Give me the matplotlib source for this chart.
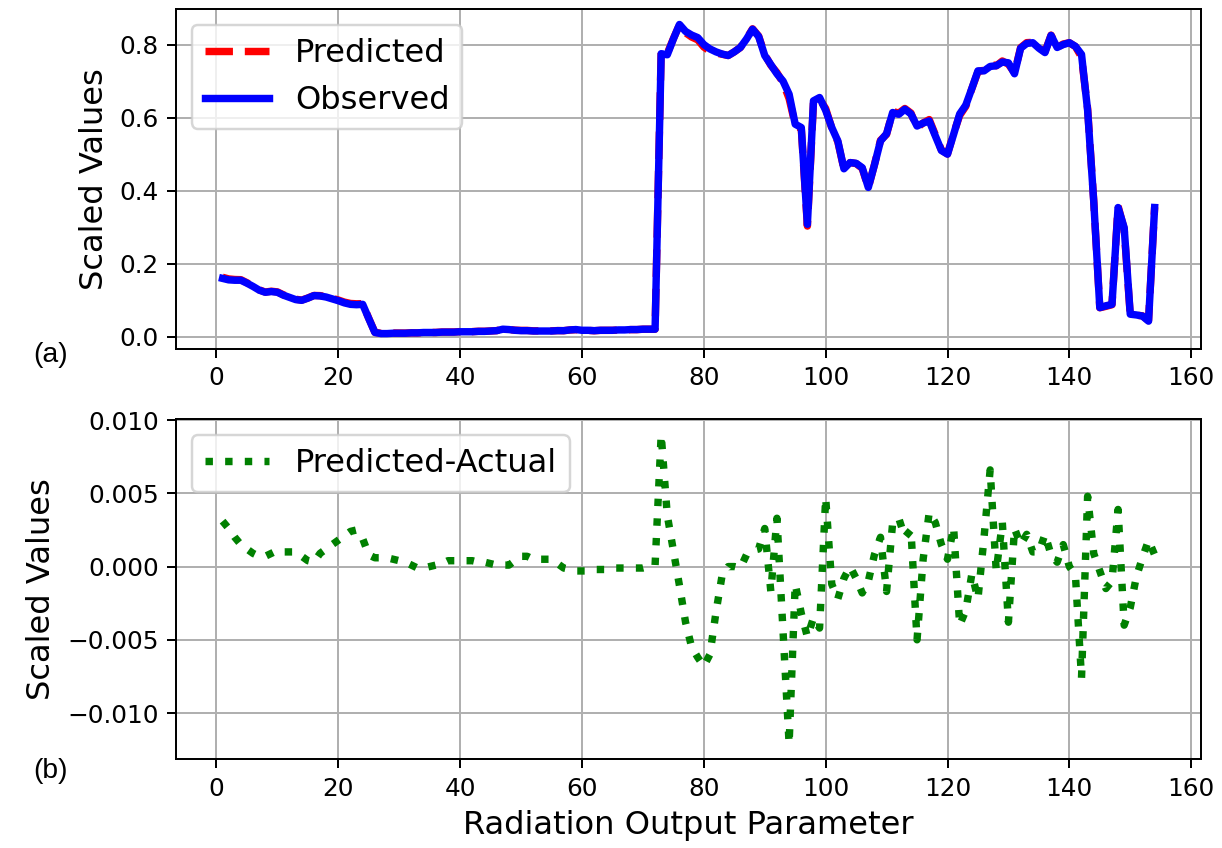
import numpy as np
import matplotlib
matplotlib.use("Agg")
import matplotlib.pyplot as plt

# parametro (1..154)
x = np.arange(1, 155)

observed = [
    0.160, 0.156, 0.155, 0.155, 0.147, 0.138, 0.128, 0.122, 0.124, 0.122,
    0.114, 0.108, 0.102, 0.100, 0.106, 0.113, 0.112, 0.109, 0.104, 0.099,
    0.093, 0.089, 0.088, 0.089, 0.050, 0.012, 0.009, 0.009, 0.010, 0.010,
    0.010, 0.011, 0.011, 0.012, 0.012, 0.012, 0.013, 0.013, 0.013, 0.014,
    0.014, 0.014, 0.015, 0.015, 0.016, 0.017, 0.021, 0.020, 0.018, 0.017,
    0.017, 0.016, 0.016, 0.016, 0.016, 0.017, 0.017, 0.019, 0.020, 0.018,
    0.018, 0.017, 0.018, 0.018, 0.018, 0.019, 0.019, 0.020, 0.020, 0.021,
    0.021, 0.021, 0.775, 0.772, 0.815, 0.855, 0.836, 0.826, 0.819, 0.800,
    0.788, 0.780, 0.774, 0.770, 0.780, 0.792, 0.815, 0.842, 0.822, 0.770,
    0.745, 0.720, 0.700, 0.664, 0.582, 0.573, 0.308, 0.646, 0.655, 0.620,
    0.573, 0.536, 0.460, 0.477, 0.475, 0.463, 0.409, 0.470, 0.536, 0.556,
    0.614, 0.609, 0.623, 0.610, 0.577, 0.585, 0.591, 0.550, 0.510, 0.500,
    0.554, 0.610, 0.634, 0.680, 0.728, 0.728, 0.740, 0.742, 0.752, 0.750,
    0.720, 0.790, 0.803, 0.805, 0.790, 0.778, 0.825, 0.792, 0.800, 0.805,
    0.795, 0.773, 0.620, 0.372, 0.080, 0.085, 0.089, 0.354, 0.299, 0.062,
    0.060, 0.057, 0.043, 0.354,
]

# predicho - real
diff = [
    0.0031, 0.0026, 0.0020, 0.0015, 0.0012, 0.0009, 0.0007, 0.0007, 0.0009, 0.0011,
    0.0010, 0.0010, 0.0010, 0.0007, 0.0004, 0.0003, 0.0009, 0.0012, 0.0015, 0.0018,
    0.0021, 0.0024, 0.0025, 0.0019, 0.0008, 0.0006, 0.0006, 0.0006, 0.0005, 0.0004,
    0.0003, 0.0001, -0.0001, -0.0001, 0.0000, 0.0001, 0.0002, 0.0004, 0.0004, 0.0004,
    0.0004, 0.0004, 0.0003, 0.0003, 0.0002, 0.0001, 0.0001, 0.0001, 0.0004, 0.0007,
    0.0007, 0.0005, 0.0005, 0.0005, 0.0005, 0.0002, -0.0001, -0.0002, -0.0003, -0.0003,
    -0.0003, -0.0002, -0.0002, -0.0002, -0.0001, -0.0001, -0.0001, -0.0001, -0.0001, -0.0001,
    0.0000, 0.0001, 0.0090, 0.0035, 0.0011, -0.0013, -0.0038, -0.0055, -0.0062, -0.0068,
    -0.0060, -0.0031, -0.0006, 0.0000, 0.0000, -0.0001, 0.0008, 0.0011, 0.0012, 0.0026,
    -0.0017, 0.0033, -0.0044, -0.0121, -0.0012, -0.0032, -0.0048, -0.0035, -0.0042, 0.0047,
    -0.0012, -0.0022, -0.0008, 0.0000, -0.0008, -0.0018, -0.0010, 0.0008, 0.0020, -0.0017,
    0.0030, 0.0033, 0.0020, 0.0025, -0.0050, 0.0005, 0.0037, 0.0030, 0.0015, 0.0005,
    0.0027, -0.0040, -0.0030, -0.0005, -0.0022, 0.0020, 0.0066, -0.0003, 0.0030, -0.0038,
    0.0026, 0.0015, 0.0022, 0.0010, 0.0010, 0.0022, 0.0008, 0.0003, 0.0015, 0.0000,
    -0.0006, -0.0076, 0.0048, 0.0009, -0.0003, -0.0015, -0.0010, 0.0039, -0.0040, -0.0028,
    -0.0007, 0.0006, 0.0018, 0.0008,
]

observed = np.array(observed)
diff = np.array(diff)
predicted = observed + diff

dpi = 178
fig = plt.figure(figsize=(1222 / dpi, 848 / dpi), dpi=dpi)

ax1 = fig.add_axes([0.144, 0.5884, 0.839, 0.401])
ax2 = fig.add_axes([0.144, 0.1046, 0.839, 0.401])

ax1.plot(x, predicted, 'r--', lw=3, label='Predicted')
ax1.plot(x, observed, 'b-', lw=3, label='Observed')
ax1.set_ylabel('Scaled Values', fontsize=13)
ax1.legend(loc='upper left', fontsize=13)
ax1.grid(True)

ax2.plot(x, diff, 'g:', lw=3, label='Predicted-Actual')
ax2.set_ylabel('Scaled Values', fontsize=13)
ax2.set_xlabel('Radiation Output Parameter', fontsize=13)
ax2.legend(loc='upper left', fontsize=13)
ax2.grid(True)

ax1.set_xticks([0, 20, 40, 60, 80, 100, 120, 140, 160])
ax2.set_xticks([0, 20, 40, 60, 80, 100, 120, 140, 160])
ax1.set_yticks([0.0, 0.2, 0.4, 0.6, 0.8])
ax2.set_yticks([-0.010, -0.005, 0.0, 0.005, 0.010])

for ax in (ax1, ax2):
    ax.tick_params(labelsize=10)

fig.text(0.041, 0.581, '(a)', fontsize=11.5, family='Liberation Sans',
         ha='center', va='center')
fig.text(0.041, 0.091, '(b)', fontsize=11.5, family='Liberation Sans',
         ha='center', va='center')

plt.savefig('out.png', dpi=dpi)
plt.close(fig)
